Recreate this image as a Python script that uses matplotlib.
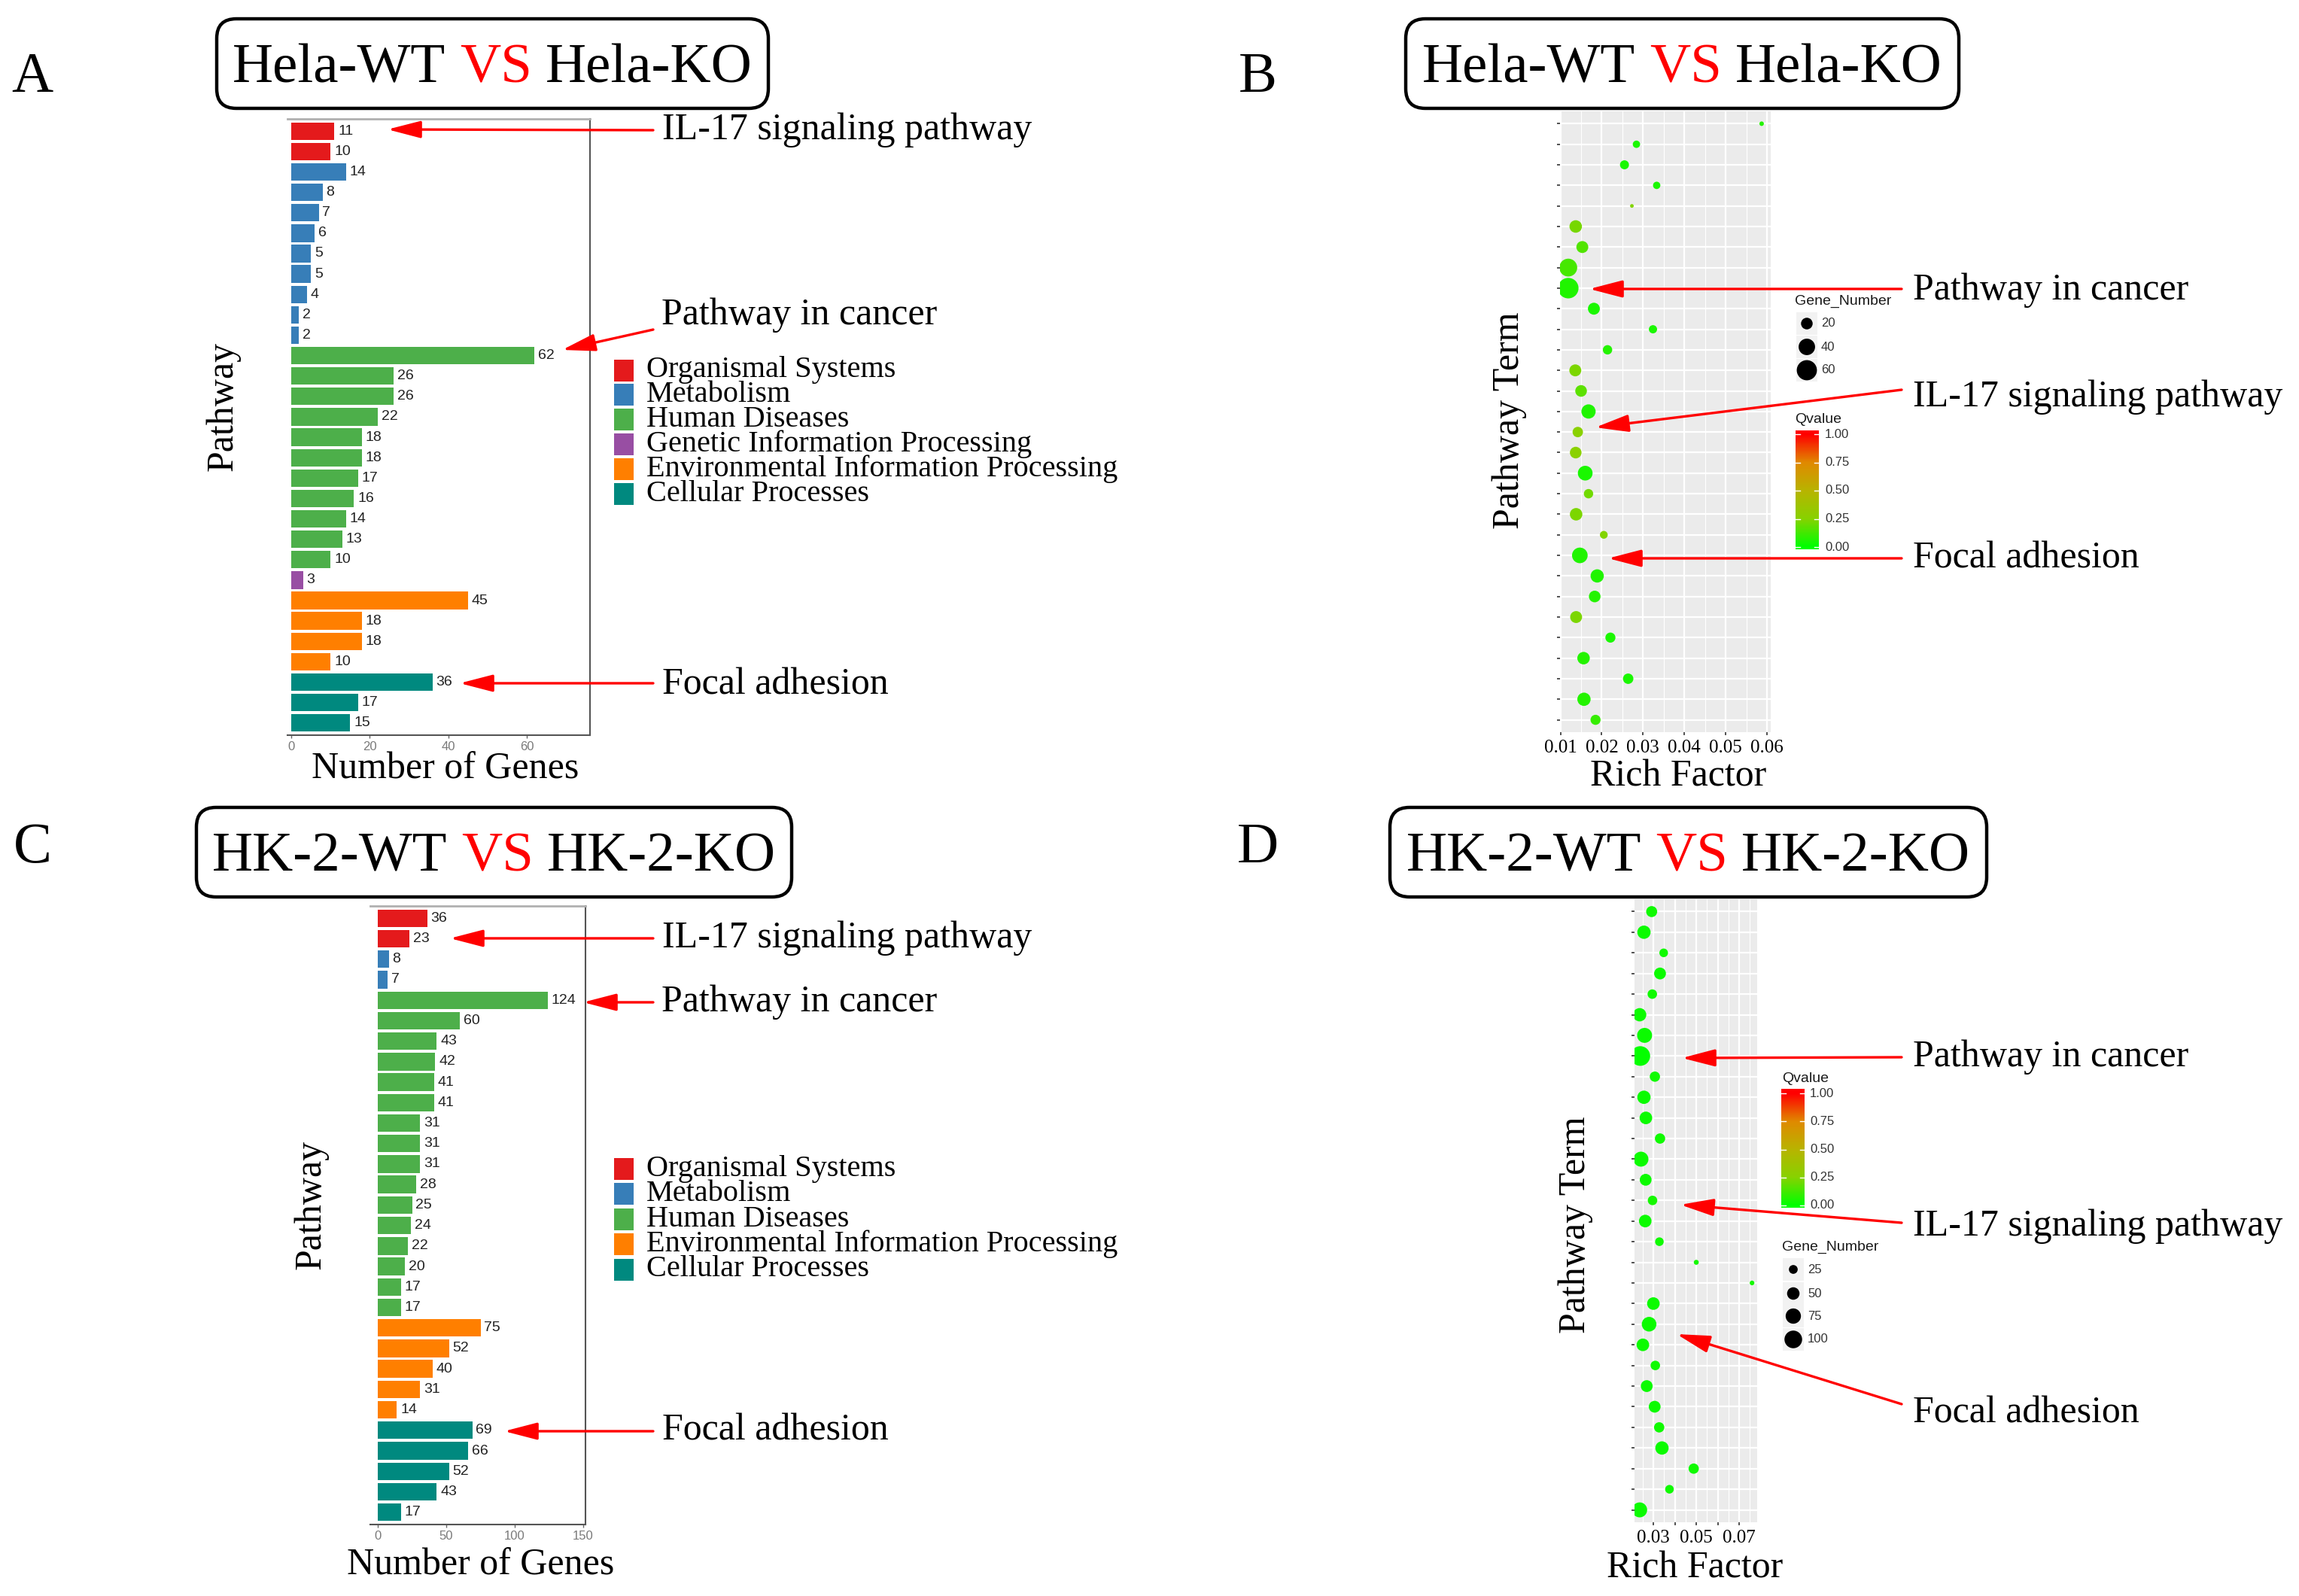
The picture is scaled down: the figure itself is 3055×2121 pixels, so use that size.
import numpy as np
import matplotlib
matplotlib.use("Agg")
import matplotlib.pyplot as plt
from matplotlib.patches import FancyBboxPatch, Rectangle, FancyArrowPatch, ArrowStyle
from matplotlib.colors import LinearSegmentedColormap

W, H, DPI = 3055, 2121, 100
SERIF = "Liberation Serif"
SANS = "Liberation Sans"

# ---------------- data ----------------
categories = ["Organismal Systems", "Metabolism", "Human Diseases",
              "Genetic Information Processing",
              "Environmental Information Processing", "Cellular Processes"]
category_colors = ["#E41A1C", "#377EB8", "#4DAF4A", "#984EA3", "#FF7F00", "#00897F"]

hela_counts = [11, 10, 14, 8, 7, 6, 5, 5, 4, 2, 2,
               62, 26, 26, 22, 18, 18, 17, 16, 14, 13, 10,
               3, 45, 18, 18, 10, 36, 17, 15]
hela_groups = [0] * 2 + [1] * 9 + [2] * 11 + [3] + [4] * 4 + [5] * 3
hela_legend_groups = [0, 1, 2, 3, 4, 5]

hk2_counts = [36, 23, 8, 7,
              124, 60, 43, 42, 41, 41, 31, 31, 31, 28, 25, 24, 22, 20, 17, 17,
              75, 52, 40, 31, 14, 69, 66, 52, 43, 17]
hk2_groups = [0] * 2 + [1] * 2 + [2] * 16 + [4] * 5 + [5] * 5
hk2_legend_groups = [0, 1, 2, 4, 5]

hela_rich = [0.0587, 0.0284, 0.0255, 0.0333, 0.0273, 0.0137, 0.0153, 0.0119, 0.0119, 0.0181,
             0.0324, 0.0214, 0.0136, 0.0150, 0.0168, 0.0142, 0.0137, 0.0160, 0.0168, 0.0138,
             0.0205, 0.0147, 0.0189, 0.0183, 0.0138, 0.0221, 0.0156, 0.0264, 0.0157, 0.0185]
hela_genes = [3, 8, 12, 8, 2, 23, 21, 47, 62, 21, 10, 13, 21, 20, 30,
              16, 20, 32, 13, 23, 9, 36, 26, 20, 21, 15, 23, 16, 26, 15]
hela_q = [0.07, 0.05, 0.05, 0.05, 0.24, 0.22, 0.15, 0.13, 0.06, 0.05,
          0.05, 0.07, 0.23, 0.17, 0.06, 0.26, 0.26, 0.05, 0.21, 0.23,
          0.24, 0.06, 0.06, 0.07, 0.23, 0.05, 0.07, 0.05, 0.07, 0.10]

hk2_rich = [0.0292, 0.0256, 0.0348, 0.0331, 0.0295, 0.0236, 0.0259, 0.0239, 0.0307, 0.0256,
            0.0265, 0.0331, 0.0242, 0.0264, 0.0296, 0.0262, 0.0328, 0.0500, 0.0760, 0.0300,
            0.0280, 0.0251, 0.0309, 0.0269, 0.0306, 0.0327, 0.0340, 0.0488, 0.0375, 0.0236]
hk2_genes = [39, 57, 24, 45, 29, 57, 72, 124, 34, 57, 51, 34, 72, 45, 29,
             51, 24, 8, 7, 51, 69, 51, 29, 45, 45, 34, 57, 34, 24, 72]
hk2_q = [0.03, 0.02, 0.03, 0.02, 0.03, 0.02, 0.02, 0.01, 0.03, 0.02,
         0.02, 0.03, 0.02, 0.02, 0.04, 0.02, 0.03, 0.04, 0.04, 0.02,
         0.02, 0.02, 0.03, 0.02, 0.02, 0.03, 0.02, 0.03, 0.03, 0.02]

hela_size_legend = [20, 40, 60]
hk2_size_legend = [25, 50, 75, 100]
q_ticks = [0.0, 0.25, 0.5, 0.75, 1.0]

# ---------------- helpers ----------------
fig = plt.figure(figsize=(W / DPI, H / DPI), dpi=DPI)
qcmap = LinearSegmentedColormap.from_list(
    "q", [(0, "#00FF00"), (0.25, "#88D200"), (0.5, "#B8B400"), (0.75, "#E08A00"), (1, "#FF0000")])

K_HELA = 6.2
K_HK2 = 2.85


def px_rect(x0, y0, x1, y1):
    return [x0 / W, 1 - y1 / H, (x1 - x0) / W, (y1 - y0) / H]


def bar_panel(rect, counts, groups, xlim, xticks):
    ax = fig.add_axes(px_rect(*rect))
    y = np.arange(len(counts))
    cols = [category_colors[g] for g in groups]
    ax.barh(y, counts, height=0.86, color=cols, linewidth=0)
    for yi, v in zip(y, counts):
        ax.annotate(str(v), (v, yi), xytext=(3.5, 0), textcoords="offset points",
                    va="center", ha="left", fontsize=14, family=SANS, color="#222222")
    ax.set_xlim(*xlim)
    ax.set_ylim(len(counts) - 0.4, -0.6)
    ax.set_yticks([])
    ax.set_xticks(xticks)
    ax.set_xticklabels([str(t) for t in xticks], family=SANS, fontsize=12, color="#7a7a7a")
    ax.tick_params(axis="x", length=3, width=1, color="#666666", pad=3)
    ax.spines["left"].set_visible(False)
    ax.spines["top"].set_color("#b0b0b0")
    ax.spines["top"].set_linewidth(2)
    for s in ("right", "bottom"):
        ax.spines[s].set_color("#555555")
        ax.spines[s].set_linewidth(1.5)
    return ax


def size_of(genes, k):
    return k * np.asarray(genes, dtype=float)


def dot_panel(rect, rich, genes, q, xlim, xticks, xlabels, minor, k):
    ax = fig.add_axes(px_rect(*rect))
    ax.set_facecolor("#EBEBEB")
    y = np.arange(len(rich))
    ax.scatter(rich, y, s=size_of(genes, k), c=q, cmap=qcmap, vmin=0, vmax=1,
               edgecolors="none", zorder=3)
    ax.set_xlim(*xlim)
    ax.set_ylim(len(rich) - 0.4, -0.6)
    ax.set_xticks(xticks)
    ax.set_xticklabels(xlabels, family=SERIF, fontsize=18, color="black")
    ax.set_xticks(minor, minor=True)
    ax.set_yticks(y)
    ax.set_yticklabels([])
    ax.set_axisbelow(True)
    ax.grid(which="major", color="white", lw=1.6)
    ax.grid(which="minor", axis="x", color="white", lw=0.8)
    for s in ax.spines.values():
        s.set_visible(False)
    ax.tick_params(which="major", length=3, width=1.2, color="#333333", pad=4)
    ax.tick_params(which="minor", length=0)
    return ax


# ---------------- panels ----------------
bar_panel((382, 158, 784, 977), hela_counts, hela_groups, (-0.96, 76.1), [0, 20, 40, 60])
bar_panel((492, 1204, 778, 2026), hk2_counts, hk2_groups, (-5.5, 151.6), [0, 50, 100, 150])

dot_panel((2073, 148, 2353, 973), hela_rich, hela_genes, hela_q, (0.0099, 0.0609),
          [0.01, 0.02, 0.03, 0.04, 0.05, 0.06],
          ["0.01", "0.02", "0.03", "0.04", "0.05", "0.06"],
          [0.015, 0.025, 0.035, 0.045, 0.055], K_HELA)
dot_panel((2172, 1195, 2335, 2023), hk2_rich, hk2_genes, hk2_q, (0.0212, 0.0784),
          [0.03, 0.04, 0.05, 0.06, 0.07], ["0.03", "", "0.05", "", "0.07"],
          [0.025, 0.035, 0.045, 0.055, 0.065, 0.075], K_HK2)


def qbar(x0, y0, x1, y1, v1_y, v0_y, label_x, title_xy):
    ax = fig.add_axes(px_rect(x0, y0, x1, y1))
    top_v = (v0_y - y0) / (v0_y - v1_y)
    bot_v = (v0_y - y1) / (v0_y - v1_y)
    grad = np.clip(np.linspace(bot_v, top_v, 256), 0, 1).reshape(-1, 1)
    ax.imshow(grad, cmap=qcmap, vmin=0, vmax=1, aspect="auto", origin="lower",
              extent=[0, 1, bot_v, top_v])
    for v in q_ticks:
        ax.plot([0, 0.2], [v, v], color="white", lw=1)
        ax.plot([0.8, 1], [v, v], color="white", lw=1)
    ax.set_xlim(0, 1)
    ax.set_ylim(bot_v, top_v)
    ax.axis("off")
    return [(label_x, v0_y - v * (v0_y - v1_y), "%.2f" % v) for v in q_ticks], title_xy


qb_labels, qb_title = qbar(2386, 572, 2417, 730, 577, 727, 2425, (2385, 558))
qd_labels, qd_title = qbar(2367, 1447, 2398, 1605, 1453, 1602, 2405, (2368, 1433))

# ---------------- overlay (layout, text, arrows) ----------------
ov = fig.add_axes([0, 0, 1, 1])
ov.set_xlim(0, W)
ov.set_ylim(H, 0)
ov.axis("off")
ov.patch.set_alpha(0)

# panel letters
for letter, (x, y) in zip("ABCD", [(43, 122), (1671, 122), (43, 1146), (1671, 1146)]):
    ov.text(x, y, letter, family=SERIF, fontsize=55, ha="center", va="baseline")

# titles
renderer = fig.canvas.get_renderer()


def boxed_title(box, left, right):
    x0, y0, x1, y1 = box
    ov.add_patch(FancyBboxPatch((x0, y0), x1 - x0, y1 - y0,
                                boxstyle="round,pad=0,rounding_size=26",
                                fc="white", ec="black", lw=3.2))
    fs_px = 54 * DPI / 72
    yb = (y0 + y1) / 2 + 0.331 * fs_px
    parts = [(left, "black"), ("VS", "#FF0000"), (right, "black")]
    texts = [ov.text(0, yb, s, color=c, family=SERIF, fontsize=54, ha="left", va="baseline")
             for s, c in parts]
    widths = [t.get_window_extent(renderer).width for t in texts]
    gap = 0.25 * fs_px
    total = sum(widths) + 2 * gap
    x = (x0 + x1) / 2 - total / 2
    for t, w in zip(texts, widths):
        t.set_x(x)
        x += w + gap


boxed_title((288, 25, 1021, 144), "Hela-WT", "Hela-KO")
boxed_title((1868, 25, 2603, 144), "Hela-WT", "Hela-KO")
boxed_title((261, 1073, 1052, 1192), "HK-2-WT", "HK-2-KO")
boxed_title((1847, 1073, 2640, 1192), "HK-2-WT", "HK-2-KO")

# axis labels
ov.text(592, 1022, "Number of Genes", family=SERIF, fontsize=36, ha="center", va="center")
ov.text(639, 2080, "Number of Genes", family=SERIF, fontsize=36, ha="center", va="center")
ov.text(296, 540, "Pathway", family=SERIF, fontsize=36, ha="center", va="center", rotation=90)
ov.text(413, 1601, "Pathway", family=SERIF, fontsize=36, ha="center", va="center", rotation=90)
ov.text(2230, 1032, "Rich Factor", family=SERIF, fontsize=36, ha="center", va="center")
ov.text(2252, 2084, "Rich Factor", family=SERIF, fontsize=36, ha="center", va="center")
ov.text(2006, 559, "Pathway Term", family=SERIF, fontsize=36, ha="center", va="center", rotation=90)
ov.text(2094, 1628, "Pathway Term", family=SERIF, fontsize=36, ha="center", va="center", rotation=90)


# category legends
def cat_legend(groups, y_start, step):
    for i, g in enumerate(groups):
        yc = y_start + i * step
        ov.add_patch(Rectangle((816, yc - 14.5), 26, 29, color=category_colors[g], lw=0))
        ov.text(859, yc, categories[g], family=SERIF, fontsize=29, ha="left", va="center")


cat_legend(hela_legend_groups, 492, 32.8)
cat_legend(hk2_legend_groups, 1553, 33.5)


# size legends
def size_legend(title_xy, key_x, ys, vals, k, label_x):
    ov.text(title_xy[0], title_xy[1], "Gene_Number", family=SANS, fontsize=14,
            ha="left", va="center", color="#1a1a1a")
    for yc in ys:
        ov.add_patch(Rectangle((key_x - 14, yc - 15), 28, 30, color="#F2F2F2", lw=0))
    ov.scatter([key_x] * len(ys), ys, s=size_of(vals, k), color="black", edgecolors="none")
    for yc, v in zip(ys, vals):
        ov.text(label_x, yc, str(v), family=SANS, fontsize=12, ha="left", va="center",
                color="#333333")


size_legend((2385, 400), 2401, [430, 461, 492], hela_size_legend, K_HELA, 2420)
size_legend((2368, 1657), 2383, [1687, 1719, 1749, 1780], hk2_size_legend, K_HK2, 2402)

for labels, title in [(qb_labels, qb_title), (qd_labels, qd_title)]:
    ov.text(title[0], title[1], "Qvalue", family=SANS, fontsize=14, ha="left", va="center",
            color="#1a1a1a")
    for x, y, s in labels:
        ov.text(x, y, s, family=SANS, fontsize=12, ha="left", va="center", color="#333333")

# annotations with arrows
notes = [
    ("IL-17 signaling pathway", (880, 173), (868, 173), (515, 172)),
    ("Pathway in cancer", (879, 419), (868, 438), (747, 465)),
    ("Focal adhesion", (880, 910), (868, 908), (611, 908)),
    ("IL-17 signaling pathway", (880, 1247), (868, 1247), (598, 1247)),
    ("Pathway in cancer", (879, 1332), (868, 1332), (775, 1332)),
    ("Focal adhesion", (880, 1901), (868, 1902), (670, 1902)),
    ("Pathway in cancer", (2542, 386), (2527, 384), (2112, 384)),
    ("IL-17 signaling pathway", (2542, 528), (2527, 518), (2120, 568)),
    ("Focal adhesion", (2542, 742), (2527, 742), (2137, 742)),
    ("Pathway in cancer", (2542, 1405), (2527, 1405), (2235, 1406)),
    ("IL-17 signaling pathway", (2542, 1630), (2527, 1625), (2233, 1601)),
    ("Focal adhesion", (2542, 1878), (2527, 1866), (2228, 1773)),
]
style = ArrowStyle("-|>", head_length=27, head_width=7)
for text, txy, tail, tip in notes:
    ov.text(txy[0], txy[1], text, family=SERIF, fontsize=36, ha="left", va="center")
    ov.add_patch(FancyArrowPatch(tail, tip, arrowstyle=style, mutation_scale=1,
                                 color="#FF0000", lw=2.4, shrinkA=0, shrinkB=0))

fig.savefig("out.png", dpi=DPI)
